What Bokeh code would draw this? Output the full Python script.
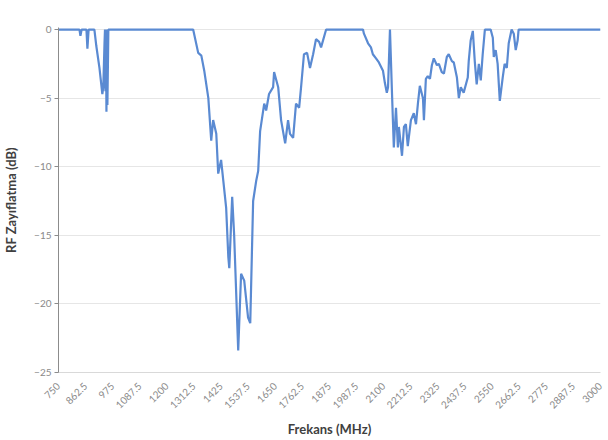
import math
from bokeh.plotting import figure
from bokeh.models import Range1d, FixedTicker
from bokeh.embed import file_html
from bokeh.resources import INLINE

# Frequency (MHz) and RF attenuation (dB)
freq_mhz = [
    750, 837, 841, 846, 866, 870, 875, 899, 907, 920, 932, 936,
    941, 943, 945, 947, 949, 951, 953, 957,
    1309, 1330, 1343, 1355, 1372, 1384, 1392, 1405, 1413, 1425, 1434, 1446,
    1455, 1459, 1471, 1479, 1496, 1508, 1521, 1537, 1546, 1558, 1571, 1579,
    1587, 1604, 1612, 1624, 1641, 1645, 1662, 1674, 1682, 1691, 1703, 1711,
    1724, 1736, 1749, 1757, 1769, 1782, 1794, 1807, 1819, 1832, 1840, 1861,
    2014, 2018, 2035, 2047, 2055, 2068, 2080, 2097, 2105, 2113, 2118, 2126,
    2134, 2142, 2151, 2159, 2163, 2176, 2184, 2192, 2200, 2213, 2225, 2234,
    2242, 2250, 2263, 2267, 2275, 2283, 2292, 2300, 2308, 2321, 2329, 2341,
    2350, 2362, 2370, 2383, 2391, 2404, 2412, 2420, 2432, 2449, 2453, 2461,
    2470, 2478, 2486, 2495, 2503, 2511, 2520, 2544, 2553, 2557, 2565, 2573,
    2582, 2594, 2602, 2611, 2619, 2631, 2640, 2648, 2656, 2660, 3000,
]
attenuation_db = [
    0, 0, -0.45, 0, 0, -1.4, 0, 0, -1.2, -2.8, -4.7, -4.2,
    -1.0, 0, -4.5, -0.3, -6.0, 0, -5.5, 0,
    0, -1.7, -1.9, -3.0, -5.0, -8.1, -6.6, -7.6, -10.5, -9.5, -11.0, -13.0,
    -16.6, -17.4, -12.2, -14.9, -23.4, -17.8, -18.3, -21.0, -21.4, -12.5, -11.0, -10.3,
    -7.4, -5.4, -5.9, -4.7, -4.2, -3.1, -4.2, -6.6, -7.4, -8.3, -6.6, -7.6,
    -7.9, -5.4, -5.7, -4.2, -1.8, -1.7, -2.8, -1.8, -0.7, -0.9, -1.3, 0,
    0, -0.3, -1.0, -1.3, -1.8, -2.1, -2.4, -3.0, -3.9, -4.6, -4.2, 0,
    -4.4, -8.6, -5.7, -8.6, -7.1, -9.2, -7.1, -6.9, -8.5, -6.6, -6.1, -6.9,
    -5.4, -4.1, -5.0, -6.6, -3.6, -3.4, -3.6, -2.6, -2.1, -2.6, -2.5, -3.1,
    -3.2, -2.0, -1.8, -2.3, -2.4, -3.5, -5.0, -4.2, -4.6, -3.5, -2.3, -0.8,
    -0.1, -2.3, -4.0, -2.5, -3.7, -1.8, 0, 0, -0.6, -2.0, -1.5, -2.5,
    -5.2, -3.5, -2.5, -2.8, -1.0, 0, -0.3, -1.5, -0.8, 0, 0,
]

x_tick_labels = ["750", "862.5", "975", "1087.5", "1200", "1312.5", "1425",
                 "1537.5", "1650", "1762.5", "1875", "1987.5", "2100", "2212.5",
                 "2325", "2437.5", "2550", "2662.5", "2775", "2887.5", "3000"]
y_ticks = [0, -5, -10, -15, -20, -25]

x_ticks = [float(s) for s in x_tick_labels]

FONT = "Lato"

p = figure(width=604, height=440, output_backend="svg", toolbar_location=None,
           x_range=Range1d(750, 3000), y_range=Range1d(-25, 0.15),
           min_border_left=57, min_border_right=4, min_border_top=27,
           min_border_bottom=68)

p.line(freq_mhz, attenuation_db, line_color="#5a8ad2", line_width=2.2)

p.outline_line_color = None
p.background_fill_color = "#ffffff"
p.border_fill_color = "#ffffff"
p.xgrid.visible = False
p.ygrid.grid_line_color = "#e6e6e6"
p.ygrid.grid_line_width = 1

p.yaxis.ticker = FixedTicker(ticks=y_ticks)
p.xaxis.ticker = FixedTicker(ticks=x_ticks)
p.xaxis.major_label_overrides = {t: s for t, s in zip(x_ticks, x_tick_labels)}
p.xaxis.major_label_orientation = math.pi / 4

for ax in (p.xaxis, p.yaxis):
    ax.major_label_text_font = FONT
    ax.major_label_text_color = "#8a8a8a"
    ax.major_label_text_font_size = "10px"
    ax.axis_label_text_font = FONT
    ax.axis_label_text_font_style = "bold"
    ax.axis_label_text_color = "#404040"
    ax.axis_label_text_font_size = "13px"
    ax.minor_tick_line_color = None

p.xaxis.axis_line_color = "#d9d9d9"
p.xaxis.major_tick_line_color = None
p.xaxis.major_tick_out = 0
p.xaxis.major_tick_in = 0
p.xaxis.major_label_standoff = 12
p.xaxis.axis_label = "Frekans (MHz)"
p.xaxis.axis_label_standoff = 6

p.yaxis.axis_line_color = "#8c8c8c"
p.yaxis.major_tick_line_color = "#8c8c8c"
p.yaxis.major_tick_out = 4
p.yaxis.major_tick_in = 0
p.yaxis.major_label_standoff = 3
p.yaxis.axis_label = "RF Zayıflatma (dB)"
p.yaxis.axis_label_standoff = 12

open("out.html", "w").write(file_html(p, INLINE))
